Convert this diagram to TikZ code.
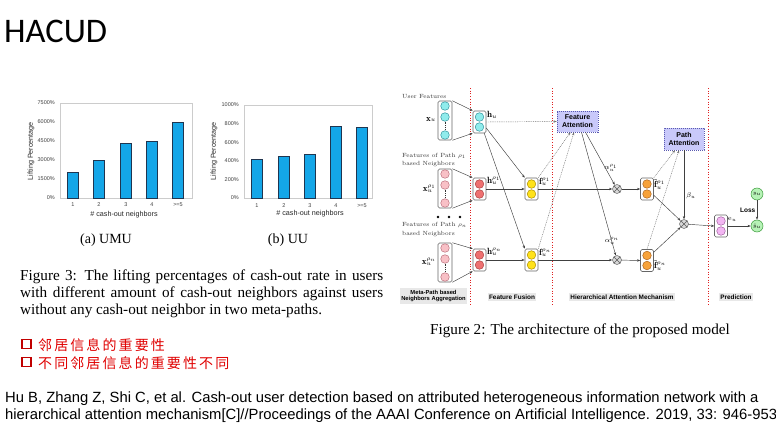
\documentclass[tikz,border=0pt]{standalone}
\usepackage{amsmath}
\usepackage{fontspec}
\usetikzlibrary{arrows.meta,calc}
\newfontfamily\arialf{Liberation Sans}
\newfontfamily\tnrf{Liberation Serif}
\newfontfamily\calf{Carlito}
\newfontfamily\cjkf[LetterSpace=15]{Noto Sans CJK SC}
\definecolor{barblue}{HTML}{14A6E8}
\definecolor{barline}{HTML}{1F3550}
\definecolor{cyanfill}{HTML}{90ECEC}
\definecolor{cyandraw}{HTML}{2A8F9A}
\definecolor{pinkfill}{HTML}{F8C0C6}
\definecolor{pinkdraw}{HTML}{B86A78}
\definecolor{redfill}{HTML}{EE7070}
\definecolor{reddraw}{HTML}{A83C3C}
\definecolor{yelfill}{HTML}{FFE21A}
\definecolor{yeldraw}{HTML}{A88A00}
\definecolor{orafill}{HTML}{F7A23A}
\definecolor{oradraw}{HTML}{A8601A}
\definecolor{viofill}{HTML}{F3B6F3}
\definecolor{viodraw}{HTML}{9A5A9A}
\definecolor{grnfill}{HTML}{B6F2B6}
\definecolor{grndraw}{HTML}{3A9A3A}
\definecolor{lavfill}{HTML}{C9C9FA}
\definecolor{lavdraw}{HTML}{5A5AB0}
\definecolor{divred}{HTML}{E02020}
\definecolor{cjkred}{HTML}{E00000}
\definecolor{boxred}{HTML}{C00000}
\begin{document}
\begin{tikzpicture}[x=1pt,y=-1pt,
  every node/.style={inner sep=0pt},
  neu/.style={circle,inner sep=0pt,minimum size=8.6pt,line width=0.45pt},
  ncyan/.style={neu,fill=cyanfill,draw=cyandraw},
  npink/.style={neu,fill=pinkfill,draw=pinkdraw},
  nred/.style={neu,fill=redfill,draw=reddraw},
  nyel/.style={neu,fill=yelfill,draw=yeldraw},
  nora/.style={neu,fill=orafill,draw=oradraw},
  nvio/.style={neu,fill=viofill,draw=viodraw},
  ygrn/.style={circle,fill=grnfill,draw=grndraw,line width=0.5pt,minimum size=12pt,font=\fontsize{5.5}{6}\selectfont},
  vbox/.style={draw=black!60,rounded corners=1.5pt,line width=0.55pt,fill=white,inner sep=0pt},
  vtwo/.style={vbox,minimum width=13pt,minimum height=22pt},
  vthree/.style={vbox,minimum width=14pt,minimum height=39pt},
  vdots/.style={draw=black!80,line width=1pt,dash pattern=on 0.9pt off 0.9pt},
  conn/.style={draw=black!75,line width=0.45pt,-{Stealth[length=3.2pt,width=2.4pt]}},
  dconn/.style={conn,dash pattern=on 0.9pt off 0.9pt,draw=black!55},
  divider/.style={draw=divred,line width=0.9pt,dash pattern=on 0.9pt off 1.8pt},
  attbox/.style={draw=lavdraw,dash pattern=on 1.2pt off 0.8pt,fill=lavfill,line width=0.5pt,font=\arialf\bfseries\fontsize{7}{8}\selectfont,align=center,minimum width=41pt,minimum height=21pt},
  mult/.style={circle,draw=black!65,fill=gray!30,minimum size=9pt,line width=0.45pt,path picture={\draw[black!65,line width=0.45pt] (path picture bounding box.north west)--(path picture bounding box.south east) (path picture bounding box.north east)--(path picture bounding box.south west);}},
  mlab/.style={font=\fontsize{9}{9}\selectfont},
  alab/.style={font=\fontsize{7}{7}\selectfont},
  slab/.style={font=\fontsize{6}{8.5}\selectfont,text=black!80},
  seclab/.style={font=\arialf\bfseries\fontsize{6.4}{7}\selectfont,fill=gray!18,inner sep=1.5pt,align=center},
  tick/.style={font=\arialf\fontsize{5.5}{6}\selectfont,text=black!75},
  axt/.style={font=\arialf\fontsize{7.2}{8}\selectfont,text=black!85},
  subcap/.style={font=\tnrf\fontsize{14}{15}\selectfont,anchor=base},
  bigcap/.style={font=\tnrf\fontsize{15.2}{17}\selectfont},
  reftxt/.style={font=\arialf\fontsize{14.8}{17}\selectfont,anchor=base west},
  barst/.style={fill=barblue,draw=barline,line width=0.5pt},
  frame/.style={draw=black!20,line width=0.5pt}
]
\useasboundingbox (0,0) rectangle (776,431);
\fill[white] (0,0) rectangle (776,431);

% title
\node[anchor=base west,font=\calf\fontsize{34.5}{38}\selectfont] (title) at (4,42) {HACUD};

% ---------------- chart (a)
\draw[frame] (60,103) rectangle (192,198);
\foreach \c/\v in {73/2000,99/3000,126/4300,152/4450,178/5950}
  \draw[barst] (\c-5.5,198) rectangle (\c+5.5,{198-\v/7500*95});
\foreach \v in {0,1500,3000,4500,6000,7500}
  \node[tick,anchor=east] at (55,{198-\v/7500*95}) {\v\%};
\foreach \c/\t in {73/1,99/2,126/3,152/4,178/{>=5}}
  \node[tick] at (\c,205) {\t};
\node[axt] (axa) at (124,215) {\# cash-out neighbors};
\node[axt,rotate=90] (aya) at (31,151) {Lifting Percentage};
\node[subcap] (capa) at (106,243) {(a) UMU};

% ---------------- chart (b)
\draw[frame] (244,105) rectangle (372,198);
\foreach \c/\v in {257/419,284/444,310/473,336/771,362/763}
  \draw[barst] (\c-5.5,198) rectangle (\c+5.5,{198-\v/1000*93});
\foreach \v in {0,200,400,600,800,1000}
  \node[tick,anchor=east] at (239,{198-\v/1000*93}) {\v\%};
\foreach \c/\t in {257/1,284/2,310/3,336/4,362/{>=5}}
  \node[tick] at (\c,206) {\t};
\node[axt] (axb) at (310,214) {\# cash-out neighbors};
\node[axt,rotate=90] (ayb) at (214,151) {Lifting Percentage};
\node[subcap] (capb) at (288,243) {(b) UU};

% ---------------- figure 3 caption
\node[bigcap,anchor=base west] (c3a) at (20,280) {\makebox[363pt][s]{Figure 3: The lifting percentages of cash-out rate in users}};
\node[bigcap,anchor=base west] (c3b) at (20,297) {\makebox[363pt][s]{with different amount of cash-out neighbors against users}};
\node[bigcap,anchor=base west] (c3c) at (20,314) {without any cash-out neighbor in two meta-paths.};

% ---------------- chinese bullets
\draw[boxred,line width=1.3pt] (22,339.5) rectangle (31,348.5);
\draw[boxred,line width=1.3pt] (22,357.5) rectangle (31,366.5);
\node[anchor=base west,font=\cjkf\fontsize{14}{16}\selectfont,text=cjkred] (cn1) at (38,350) {邻居信息的重要性};
\node[anchor=base west,font=\cjkf\fontsize{14}{16}\selectfont,text=cjkred] (cn2) at (38,368) {不同邻居信息的重要性不同};

% ---------------- reference
\node[reftxt] (ref1) at (5,402) {Hu B, Zhang Z, Shi C, et al. Cash-out user detection based on attributed heterogeneous information network with a};
\node[reftxt] (ref2) at (5,419) {hierarchical attention mechanism[C]//Proceedings of the AAAI Conference on Artificial Intelligence. 2019, 33: 946-953};

% ---------------- architecture diagram
\draw[divider] (470,88) -- (470,306);
\draw[divider] (552,88) -- (552,306);
\draw[divider] (708,88) -- (708,306);

\node[slab,anchor=west] (uf) at (402,97) {User Features};
\node[slab,anchor=west,align=left] (p1l) at (402,160) {Features of Path $\rho_1$\\based Neighbors};
\node[slab,anchor=west,align=left] (pnl) at (402,229.5) {Features of Path $\rho_n$\\based Neighbors};
\fill[black] (438,217) circle (1.4pt) (449,217) circle (1.4pt) (460,217) circle (1.4pt);

% input vectors
\node[vthree] (xu) at (445,120.5) {};
\node[ncyan] (xu1) at (445,106) {};
\node[ncyan] (xu2) at (445,117) {};
\node[ncyan] (xu3) at (445,135) {};
\draw[vdots] (xu2.south) -- (xu3.north);
\node[vthree] (x1) at (445,188.5) {};
\node[npink] (x11) at (445,174) {};
\node[npink] (x12) at (445,185) {};
\node[npink] (x13) at (445,203) {};
\draw[vdots] (x12.south) -- (x13.north);
\node[vthree] (xn) at (445,262.5) {};
\node[npink] (xn1) at (445,248) {};
\node[npink] (xn2) at (445,259) {};
\node[npink] (xn3) at (445,277) {};
\draw[vdots] (xn2.south) -- (xn3.north);
\node[mlab,anchor=east] (lxu) at (436,119.5) {$\mathbf{x}_u$};
\node[mlab,anchor=east] (lx1) at (436,189) {$\mathbf{x}_u^{\rho_1}$};
\node[mlab,anchor=east] (lxn) at (436,262) {$\mathbf{x}_u^{\rho_n}$};

% hidden vectors
\node[vtwo] (hu) at (479.5,122) {};
\node[ncyan] at (479.5,117) {}; \node[ncyan] at (479.5,127) {};
\node[vtwo] (h1) at (479.5,189) {};
\node[nred] at (479.5,184) {}; \node[nred] at (479.5,194) {};
\node[vtwo] (hn) at (479.5,260) {};
\node[nred] at (479.5,255) {}; \node[nred] at (479.5,265) {};
\node[mlab,anchor=west] (lhu) at (487,115) {$\mathbf{h}_u$};
\node[mlab,anchor=west] (lh1) at (487,181) {$\mathbf{h}_u^{\rho_1}$};
\node[mlab,anchor=west] (lhn) at (487,252) {$\mathbf{h}_u^{\rho_n}$};

% fusion vectors
\node[vtwo] (f1) at (531.5,189) {};
\node[nyel] at (531.5,184) {}; \node[nyel] at (531.5,194) {};
\node[vtwo] (fn) at (531.5,260) {};
\node[nyel] at (531.5,255) {}; \node[nyel] at (531.5,265) {};
\node[mlab,anchor=west] (lf1) at (539,182) {$\mathbf{f}_u^{\rho_1}$};
\node[mlab,anchor=west] (lfn) at (539,253) {$\mathbf{f}_u^{\rho_n}$};

% attention
\node[attbox] (FA) at (577.5,121.5) {Feature\\Attention};
\node[attbox,minimum width=40pt,minimum height=22pt] (PA) at (684,139) {Path\\Attention};
\node[mult] (ot1) at (617,189) {};
\node[mult] (otn) at (617,260) {};
\node[alab] (la1) at (611,168) {$\alpha_u^{\rho_1}$};
\node[alab] (lan) at (612,241) {$\alpha_u^{\rho_n}$};
\node[vtwo] (ft1) at (647,189) {};
\node[nora] at (647,184) {}; \node[nora] at (647,194) {};
\node[vtwo] (ftn) at (647,260.5) {};
\node[nora] at (647,255.5) {}; \node[nora] at (647,265.5) {};
\node[mlab,anchor=west] (lft1) at (654,184) {$\tilde{\mathbf{f}}_u^{\rho_1}$};
\node[mlab,anchor=west] (lftn) at (654,265) {$\tilde{\mathbf{f}}_u^{\rho_n}$};
\node[mult] (otb) at (684,224) {};
\node[alab] (lb) at (691,196) {$\beta_u$};

% prediction
\node[vtwo] (eu) at (721,226) {};
\node[nvio] at (721,221) {}; \node[nvio] at (721,231) {};
\node[alab,anchor=west] (leu) at (728,219) {$\mathrm{e}_u$};
\node[ygrn] (yu) at (757,194) {$y_u$};
\node[ygrn] (yh) at (757,226) {$\hat{y}_u$};

% connectors
\draw[conn] (xu.north east) -- (hu.north west);
\draw[conn] (xu.south east) -- (hu.south west);
\draw[conn] (x1.north east) -- (h1.north west);
\draw[conn] (x1.south east) -- (h1.south west);
\draw[conn] (xn.north east) -- (hn.north west);
\draw[conn] (xn.south east) -- (hn.south west);
\draw[dconn] (hu.east) -- (FA.west);
\draw[conn] ($(hu.east)+(0,6)$) -- (f1.north west);
\draw[conn] ($(hu.south east)+(-2,0)$) -- (fn.north west);
\draw[conn] (h1.east) -- (f1.west);
\draw[conn] (hn.east) -- (fn.west);
\draw[dconn] (f1.north east) -- ($(FA.south)+(-7,0)$);
\draw[dconn] (fn.north east) -- ($(FA.south)+(-3.5,0)$);
\draw[conn] ($(FA.south)+(8,0)$) -- (ot1);
\draw[conn] ($(FA.south)+(4,0)$) -- (otn);
\draw[conn] (f1.east) -- (ot1);
\draw[conn] (fn.east) -- (otn);
\draw[conn] (ot1) -- (ft1.west);
\draw[conn] (otn) -- (ftn.west);
\draw[dconn] (ft1.north east) -- ($(PA.south)+(-9,0)$);
\draw[dconn] (ftn.north) -- ($(PA.south)+(-5,0)$);
\draw[conn] (PA.south) -- (otb);
\draw[conn] ($(ft1.south east)+(0,-5)$) -- (otb);
\draw[conn] ($(ftn.north east)+(0,3)$) -- (otb);
\draw[conn] (otb) -- (eu.west);
\draw[conn] (eu.east) -- (yh);
\draw[conn] (yu) -- node[midway,left=1.5pt,font=\arialf\bfseries\fontsize{6.5}{6.5}\selectfont] {Loss} (yh);

% section labels
\node[seclab,font=\arialf\bfseries\fontsize{5.8}{6.6}\selectfont,minimum width=67pt,minimum height=16pt,inner sep=0pt] (s1) at (433.5,296) {Meta-Path based\\Neighbors Aggregation};
\node[seclab] (s2) at (512,297) {Feature Fusion};
\node[seclab] (s3) at (622,297) {Hierarchical Attention Mechanism};
\node[seclab] (s4) at (736,297) {Prediction};

% figure 2 caption
\node[bigcap,anchor=base] (c2) at (580,334) {Figure 2: The architecture of the proposed model};
\end{tikzpicture}
\end{document}
